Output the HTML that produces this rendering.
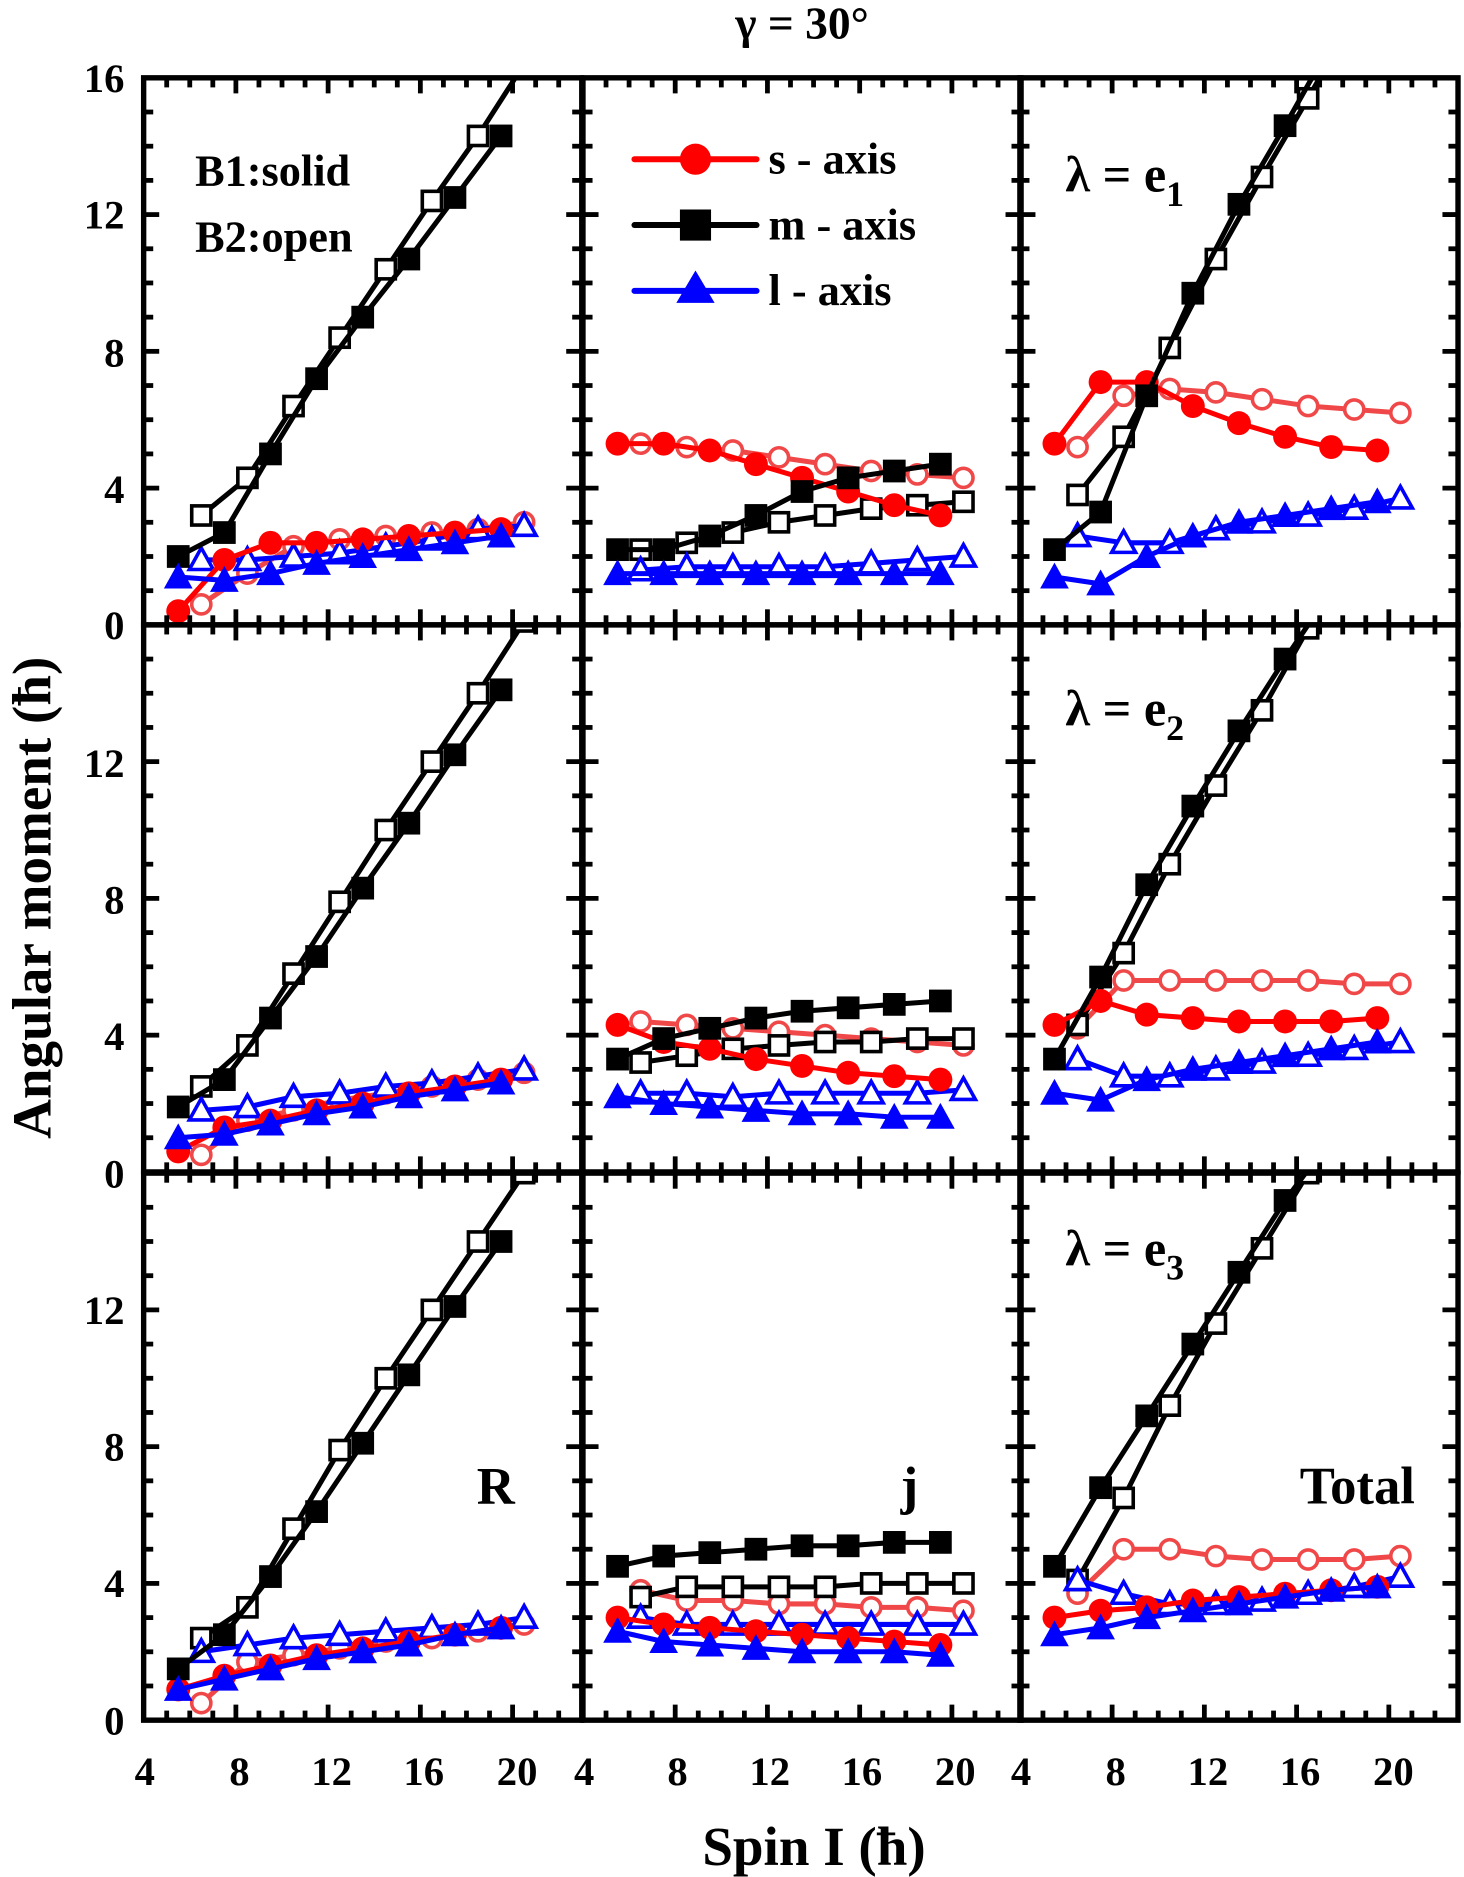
<!DOCTYPE html>
<html><head><meta charset="utf-8"><style>html,body{margin:0;padding:0;background:#fff}svg{display:block}</style></head>
<body>
<svg id="s" width="1464" height="1877" viewBox="0 0 1223 1568" xmlns="http://www.w3.org/2000/svg" font-family="Liberation Serif, serif" font-weight="bold">
<g id="plots"></g>
<g id="frames"></g>
<text x="670" y="32" font-size="38" text-anchor="middle">γ = 30°</text>
<g font-size="34" text-anchor="end">
<text x="104" y="77">16</text><text x="104" y="191">12</text><text x="104" y="306">8</text><text x="104" y="420">4</text><text x="104" y="534">0</text>
<text x="104" y="649">12</text><text x="104" y="763">8</text><text x="104" y="877">4</text><text x="104" y="992">0</text>
<text x="104" y="1106">12</text><text x="104" y="1220">8</text><text x="104" y="1334">4</text><text x="104" y="1449">0</text>
</g>
<g font-size="34" text-anchor="middle">
<text x="121" y="1491">4</text><text x="200" y="1491">8</text><text x="277" y="1491">12</text><text x="354" y="1491">16</text><text x="432" y="1491">20</text>
<text x="488" y="1491">4</text><text x="566" y="1491">8</text><text x="643" y="1491">12</text><text x="720" y="1491">16</text><text x="798" y="1491">20</text>
<text x="853" y="1491">4</text><text x="932" y="1491">8</text><text x="1009" y="1491">12</text><text x="1086" y="1491">16</text><text x="1164" y="1491">20</text>
</g>
<text x="680" y="1558" font-size="46" text-anchor="middle">Spin I (ħ)</text>
<text transform="translate(42,750) rotate(-90)" font-size="46" text-anchor="middle">Angular moment (ħ)</text>
<g font-size="37">
<text x="163" y="155">B1:solid</text><text x="163" y="210">B2:open</text>
<text x="890" y="160" font-size="42">λ = e<tspan font-size="30" dy="12">1</tspan></text>
<text x="890" y="606" font-size="42">λ = e<tspan font-size="30" dy="12">2</tspan></text>
<text x="890" y="1057" font-size="42">λ = e<tspan font-size="30" dy="12">3</tspan></text>
<text x="430" y="1256" font-size="44" text-anchor="end">R</text>
<text x="767" y="1256" font-size="44" text-anchor="end">j</text>
<text x="1182" y="1256" font-size="44" text-anchor="end">Total</text>
</g>
<g font-size="37">
<line x1="530" y1="133" x2="632" y2="133" stroke="#f00" stroke-width="5" stroke-linecap="round"/><circle cx="581" cy="133" r="13" fill="#f00"/>
<text x="642" y="145">s - axis</text>
<line x1="530" y1="188" x2="632" y2="188" stroke="#000" stroke-width="5" stroke-linecap="round"/><rect x="568" y="175" width="26" height="26" fill="#000"/>
<text x="642" y="200">m - axis</text>
<line x1="530" y1="243" x2="632" y2="243" stroke="#00f" stroke-width="5" stroke-linecap="round"/><polygon points="581,226 597,253 565,253" fill="#00f"/>
<text x="642" y="255">l - axis</text>
</g>
</svg>
<script>
var NS="http://www.w3.org/2000/svg";
var colsX=[120,487,852],rowsY=[65,522,980],W=366,H=457;
var P=[
[{s:[0.4,1.9,2.4,2.4,2.5,2.6,2.7,2.8],so:[0.6,1.5,2.3,2.5,2.6,2.7,2.8,3.0],m:[2.0,2.7,5.0,7.2,9.0,10.7,12.5,14.3],mo:[3.2,4.3,6.4,8.4,10.4,12.4,14.3,16.4],l:[1.4,1.3,1.5,1.8,2.0,2.2,2.4,2.6],lo:[1.9,1.9,2.0,2.1,2.3,2.5,2.8,2.9]},
{s:[5.3,5.3,5.1,4.7,4.3,3.9,3.5,3.2],so:[5.3,5.2,5.1,4.9,4.7,4.5,4.4,4.3],m:[2.2,2.2,2.6,3.2,3.9,4.3,4.5,4.7],mo:[2.2,2.4,2.7,3.0,3.2,3.4,3.5,3.6],l:[1.5,1.5,1.5,1.5,1.5,1.5,1.5,1.5],lo:[1.6,1.7,1.7,1.7,1.7,1.8,1.9,2.0]},
{s:[5.3,7.1,7.1,6.4,5.9,5.5,5.2,5.1],so:[5.2,6.7,6.9,6.8,6.6,6.4,6.3,6.2],m:[2.2,3.3,6.7,9.7,12.3,14.6,17,19],mo:[3.8,5.5,8.1,10.7,13.1,15.4,17.8,20],l:[1.4,1.2,2.0,2.6,3.0,3.2,3.4,3.6],lo:[2.6,2.4,2.4,2.8,3.0,3.2,3.4,3.7]}],
[{s:[0.6,1.3,1.5,1.8,2.0,2.3,2.5,2.7],so:[0.5,1.5,1.8,2.1,2.3,2.5,2.7,2.9],m:[1.9,2.7,4.5,6.3,8.3,10.2,12.2,14.1],mo:[2.5,3.7,5.8,7.9,10.0,12.0,14.0,16.1],l:[1.0,1.1,1.4,1.7,1.9,2.2,2.4,2.6],lo:[1.8,1.9,2.2,2.3,2.5,2.6,2.8,3.0]},
{s:[4.3,3.8,3.6,3.3,3.1,2.9,2.8,2.7],so:[4.4,4.3,4.2,4.1,4.0,3.9,3.8,3.7],m:[3.3,3.9,4.2,4.5,4.7,4.8,4.9,5.0],mo:[3.2,3.4,3.6,3.7,3.8,3.8,3.9,3.9],l:[2.2,2.0,1.9,1.8,1.7,1.7,1.6,1.6],lo:[2.3,2.3,2.2,2.3,2.3,2.3,2.3,2.4]},
{s:[4.3,5.0,4.6,4.5,4.4,4.4,4.4,4.5],so:[4.2,5.6,5.6,5.6,5.6,5.6,5.5,5.5],m:[3.3,5.7,8.4,10.7,12.9,15.0,17,19],mo:[4.3,6.4,9.0,11.3,13.5,15.9,18,20],l:[2.3,2.1,2.7,3.0,3.2,3.4,3.6,3.8],lo:[3.3,2.8,2.8,3.0,3.2,3.4,3.6,3.8]}],
[{s:[0.9,1.3,1.6,1.9,2.1,2.3,2.5,2.7],so:[0.5,1.7,1.9,2.1,2.3,2.4,2.6,2.8],m:[1.5,2.5,4.2,6.1,8.1,10.1,12.1,14.0],mo:[2.4,3.3,5.6,7.9,10.0,12.0,14.0,16.0],l:[0.9,1.2,1.5,1.8,2.0,2.2,2.5,2.7],lo:[2.0,2.2,2.4,2.5,2.6,2.7,2.8,3.0]},
{s:[3.0,2.8,2.7,2.6,2.5,2.4,2.3,2.2],so:[3.8,3.5,3.5,3.4,3.4,3.3,3.3,3.2],m:[4.5,4.8,4.9,5.0,5.1,5.1,5.2,5.2],mo:[3.6,3.9,3.9,3.9,3.9,4.0,4.0,4.0],l:[2.6,2.3,2.2,2.1,2.0,2.0,2.0,1.9],lo:[3.0,2.8,2.8,2.8,2.8,2.8,2.8,2.8]},
{s:[3.0,3.2,3.3,3.5,3.6,3.7,3.8,3.9],so:[3.7,5.0,5.0,4.8,4.7,4.7,4.7,4.8],m:[4.5,6.8,8.9,11.0,13.1,15.2,17,19],mo:[4.1,6.5,9.2,11.6,13.8,16.0,18,20],l:[2.5,2.7,3.0,3.2,3.4,3.6,3.8,3.9],lo:[4.1,3.7,3.4,3.4,3.5,3.7,3.9,4.2]}]];
function el(t,a,p){var e=document.createElementNS(NS,t);for(var k in a)e.setAttribute(k,a[k]);p.appendChild(e);return e;}
var plots=document.getElementById('plots'),frames=document.getElementById('frames');
var defs=el('defs',{},plots);
for(var r=0;r<3;r++)for(var c=0;c<3;c++){
 var x0=colsX[c],y0=rowsY[r],id='c'+r+c;
 var cp=el('clipPath',{id:id},defs);el('rect',{x:x0,y:y0,width:W,height:H},cp);
 var g=el('g',{'clip-path':'url(#'+id+')'},plots);
 var d=P[r][c];
 var X=function(I){return x0+(I-4)*W/19;},Y=function(v){return y0+H-v*H/16;};
 var ser=[['s','#f00',0,'c'],['so','#f04848',1,'c'],['m','#000',0,'q'],['mo','#000',1,'q'],['l','#00f',0,'t'],['lo','#00f',1,'t']];
 var order=[1,3,5,0,2,4];
 order.forEach(function(i){var sd=ser[i],vals=d[sd[0]],off=sd[2];
  var pts=vals.map(function(v,k){return [X(5.5+off+2*k),Y(v)];});
  el('polyline',{points:pts.map(function(p){return p.join(',')}).join(' '),fill:'none',stroke:sd[1],'stroke-width':4.2,'stroke-linejoin':'round'},g);
  pts.forEach(function(p){
   var fill=off?'#fff':sd[1],sw=off?3:0;
   if(sd[3]=='c')el('circle',{cx:p[0],cy:p[1],r:off?8:10,fill:fill,stroke:sd[1],'stroke-width':sw},g);
   else if(sd[3]=='q'){var s=off?16:19;el('rect',{x:p[0]-s/2,y:p[1]-s/2,width:s,height:s,fill:fill,stroke:sd[1],'stroke-width':sw},g);}
   else{var s=off?10:12;el('polygon',{points:(p[0])+','+(p[1]-s)+' '+(p[0]+s)+','+(p[1]+s*0.8)+' '+(p[0]-s)+','+(p[1]+s*0.8),fill:fill,stroke:sd[1],'stroke-width':sw},g);}
  });
 });
 el('rect',{x:x0,y:y0,width:W,height:H,fill:'none',stroke:'#000','stroke-width':4.5},frames);
 for(var I=5;I<23;I++){var xx=X(I),L=(I%4==0)?13:8;
  el('line',{x1:xx,y1:y0,x2:xx,y2:y0+L,stroke:'#000','stroke-width':4},frames);
  el('line',{x1:xx,y1:y0+H,x2:xx,y2:y0+H-L,stroke:'#000','stroke-width':4},frames);}
 for(var v=1;v<16;v++){var yy=Y(v),L=(v%4==0)?13:8;
  el('line',{x1:x0,y1:yy,x2:x0+L,y2:yy,stroke:'#000','stroke-width':4},frames);
  el('line',{x1:x0+W,y1:yy,x2:x0+W-L,y2:yy,stroke:'#000','stroke-width':4},frames);}
}
</script>
</body></html>
